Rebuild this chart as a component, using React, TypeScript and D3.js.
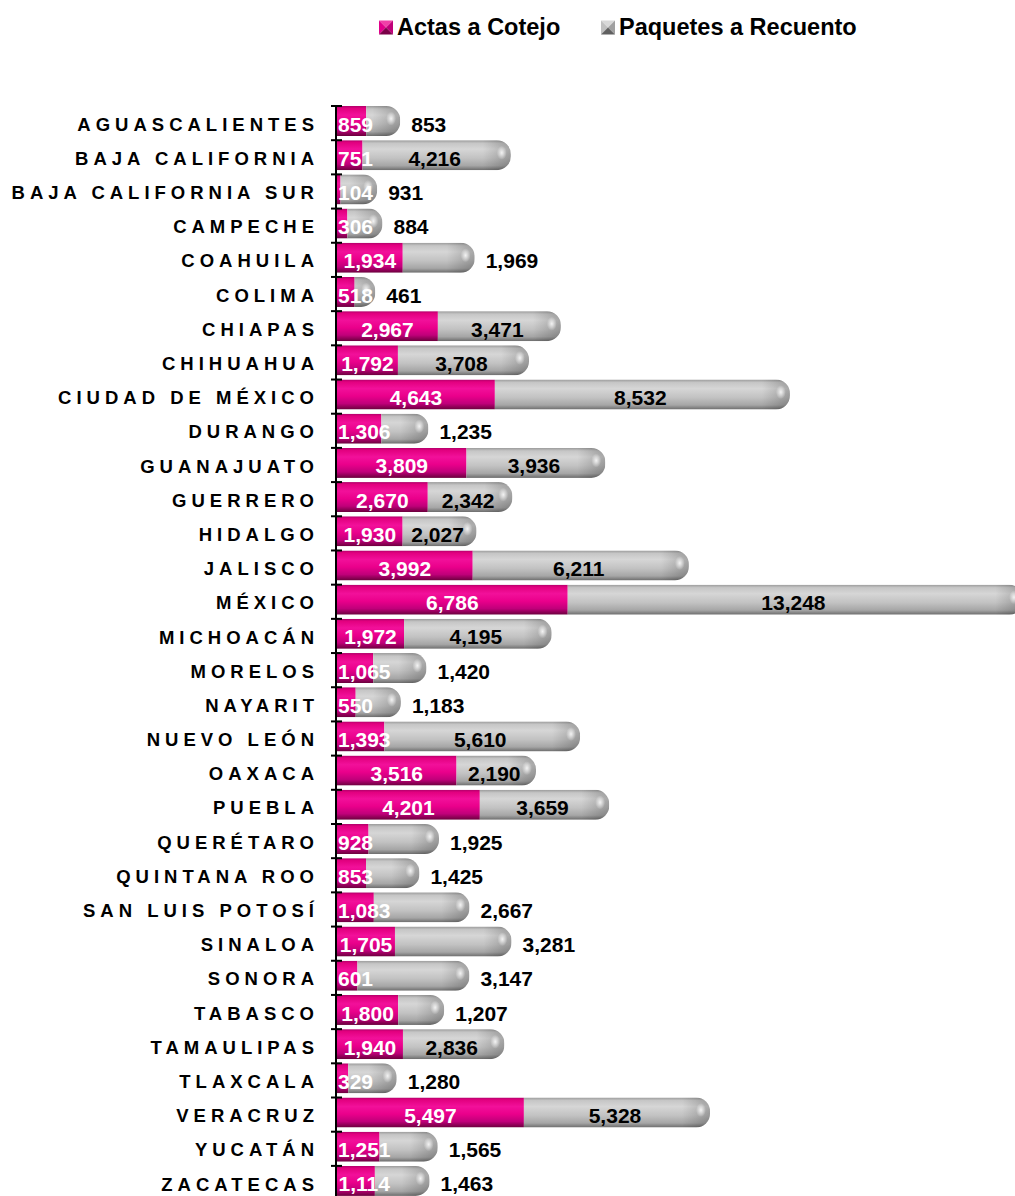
import * as React from 'react'
import * as d3 from 'd3'

const states = [
  'AGUASCALIENTES', 'BAJA CALIFORNIA', 'BAJA CALIFORNIA SUR', 'CAMPECHE', 'COAHUILA', 'COLIMA',
  'CHIAPAS', 'CHIHUAHUA', 'CIUDAD DE MÉXICO', 'DURANGO', 'GUANAJUATO', 'GUERRERO', 'HIDALGO',
  'JALISCO', 'MÉXICO', 'MICHOACÁN', 'MORELOS', 'NAYARIT', 'NUEVO LEÓN', 'OAXACA', 'PUEBLA',
  'QUERÉTARO', 'QUINTANA ROO', 'SAN LUIS POTOSÍ', 'SINALOA', 'SONORA', 'TABASCO', 'TAMAULIPAS',
  'TLAXCALA', 'VERACRUZ', 'YUCATÁN', 'ZACATECAS',
];

const actas = [
  859, 751, 104, 306, 1934, 518, 2967, 1792, 4643, 1306, 3809, 2670, 1930, 3992, 6786, 1972,
  1065, 550, 1393, 3516, 4201, 928, 853, 1083, 1705, 601, 1800, 1940, 329, 5497, 1251, 1114,
];

const paquetes = [
  853, 4216, 931, 884, 1969, 461, 3471, 3708, 8532, 1235, 3936, 2342, 2027, 6211, 13248, 4195,
  1420, 1183, 5610, 2190, 3659, 1925, 1425, 2667, 3281, 3147, 1207, 2836, 1280, 5328, 1565, 1463,
];

// states whose "Paquetes" label sits to the right of the bar
const outsideLabels = [
  'AGUASCALIENTES', 'BAJA CALIFORNIA SUR', 'CAMPECHE', 'COAHUILA', 'COLIMA', 'DURANGO', 'MORELOS',
  'NAYARIT', 'QUERÉTARO', 'QUINTANA ROO', 'SAN LUIS POTOSÍ', 'SINALOA', 'SONORA', 'TABASCO',
  'TLAXCALA', 'YUCATÁN', 'ZACATECAS',
];

const seriesNames = ['Actas a Cotejo', 'Paquetes a Recuento'];

const FONT = "'Liberation Sans', Arial, Helvetica, sans-serif";
const fmt = d3.format(',');

// rough bold Arial width for numbers
const numWidth = (s: string, fs: number) =>
  s.split('').reduce((a, c) => a + (c === ',' ? 0.278 : 0.556), 0) * fs;

const roundedRight = (x0: number, y0: number, x1: number, h: number, r: number) => {
  r = Math.min(r, x1 - x0, h / 2);
  return `M${x0},${y0}H${x1 - r}A${r},${r} 0 0 1 ${x1},${y0 + r}V${y0 + h - r}A${r},${r} 0 0 1 ${x1 - r},${y0 + h}H${x0}Z`;
};

const BarChart: React.FC = () => {
  const ref = React.useRef<SVGSVGElement>(null);
  const width = 1015;
  const height = 1196;

  React.useEffect(() => {
    const svg = d3.select(ref.current);
    svg.selectAll('*').remove();

    const x = d3.scaleLinear().domain([0, 20000]).range([337, 1017]);
    const y = d3.scaleBand<string>().domain(states).range([107, 107 + 32 * 34.19]);
    const bh = 30;
    const capExtra = 5;

    const defs = svg.append('defs');
    const vgrad = (id: string, stops: [number, string][]) => {
      const g = defs.append('linearGradient').attr('id', id)
        .attr('x1', 0).attr('y1', 0).attr('x2', 0).attr('y2', 1);
      stops.forEach(([o, c]) => g.append('stop').attr('offset', o).attr('stop-color', c));
    };
    vgrad('gMag', [[0, '#b0006a'], [0.08, '#e2007f'], [0.3, '#f2109a'], [0.55, '#ea008b'], [0.8, '#c0007a'], [1, '#6a003c']]);
    vgrad('gGray', [[0, '#9a9a9a'], [0.1, '#c6c6c6'], [0.3, '#d6d6d6'], [0.6, '#c2c2c2'], [0.85, '#a6a6a6'], [1, '#6c6c6c']]);

    const cap = defs.append('linearGradient').attr('id', 'gCap')
      .attr('x1', 0).attr('y1', 0).attr('x2', 1).attr('y2', 0);
    cap.append('stop').attr('offset', 0).attr('stop-color', '#000').attr('stop-opacity', 0);
    cap.append('stop').attr('offset', 1).attr('stop-color', '#000').attr('stop-opacity', 0.22);

    const hl = defs.append('radialGradient').attr('id', 'gHl');
    hl.append('stop').attr('offset', 0).attr('stop-color', '#fff').attr('stop-opacity', 0.85);
    hl.append('stop').attr('offset', 1).attr('stop-color', '#fff').attr('stop-opacity', 0);

    // bars
    states.forEach((s, i) => {
      const top = (y(s) as number) - 1;
      const x0 = x(0);
      const xm = x(actas[i]);
      const xe = x(actas[i] + paquetes[i]) + capExtra;
      const r = bh / 2 - 1;
      const cid = `clip-${i}`;
      defs.append('clipPath').attr('id', cid)
        .append('path').attr('d', roundedRight(x0, top, xe, bh, r));

      const g = svg.append('g').attr('clip-path', `url(#${cid})`);
      g.append('rect').attr('x', x0).attr('y', top).attr('width', xm - x0).attr('height', bh)
        .attr('fill', 'url(#gMag)');
      g.append('rect').attr('x', xm).attr('y', top).attr('width', xe - xm).attr('height', bh)
        .attr('fill', 'url(#gGray)');
      g.append('rect').attr('x', xe - 2 * r).attr('y', top).attr('width', 2 * r).attr('height', bh)
        .attr('fill', 'url(#gCap)');
      g.append('ellipse').attr('cx', xe - r * 0.65).attr('cy', top + bh * 0.42)
        .attr('rx', 5).attr('ry', 7).attr('fill', 'url(#gHl)');
    });

    // axis with ticks at band boundaries
    const axis = svg.append('g').attr('stroke', '#000');
    axis.append('line').attr('x1', 336).attr('x2', 336)
      .attr('y1', y.range()[0] - 2).attr('y2', y.range()[1]).attr('stroke-width', 2);
    d3.range(states.length + 1).forEach(k => {
      const yy = y.range()[0] + k * y.step() - 1;
      axis.append('line').attr('x1', 331).attr('x2', 342).attr('y1', yy).attr('y2', yy)
        .attr('stroke-width', 2);
    });

    // category labels
    const ls = 5;
    svg.append('g').selectAll('text').data(states).enter().append('text')
      .attr('x', 314 + ls)
      .attr('y', d => (y(d) as number) + y.bandwidth() / 2 + 6.6)
      .attr('text-anchor', 'end')
      .attr('font-family', FONT).attr('font-weight', 'bold').attr('font-size', 18.5)
      .attr('letter-spacing', ls)
      .attr('fill', '#000')
      .text(d => d);

    // value labels
    const fs = 21;
    const labels = svg.append('g').attr('font-family', FONT).attr('font-weight', 'bold')
      .attr('font-size', fs);
    states.forEach((s, i) => {
      const cy = (y(s) as number) + y.bandwidth() / 2 + 7.5;
      const a = fmt(actas[i]);
      const aw = numWidth(a, fs);
      const xm = x(actas[i]);
      const ax = Math.max((x(0) + xm) / 2, x(0) + aw / 2 + 1);
      labels.append('text').attr('x', ax).attr('y', cy).attr('text-anchor', 'middle')
        .attr('fill', '#fff').text(a);

      const p = fmt(paquetes[i]);
      const xe = x(actas[i] + paquetes[i]) + capExtra;
      if (outsideLabels.includes(s)) {
        labels.append('text').attr('x', xe + 11).attr('y', cy).attr('fill', '#000').text(p);
      } else {
        labels.append('text').attr('x', (xm + xe) / 2 - 2).attr('y', cy).attr('text-anchor', 'middle')
          .attr('fill', '#000').text(p);
      }
    });

    // legend
    const legend = svg.append('g');
    const legendX = [379, 601];
    const markerColors = [
      ['#f040a8', '#c0007a', '#e0008a', '#7a0048'],
      ['#d8d8d8', '#a0a0a0', '#c0c0c0', '#606060'],
    ];
    seriesNames.forEach((name, k) => {
      const lx = legendX[k];
      const ly = 20.5;
      const sz = 14;
      const c = markerColors[k];
      const cx = lx + sz / 2;
      const cyy = ly + sz / 2;
      const tri = (pts: number[][], col: string) =>
        legend.append('polygon').attr('points', pts.map(p => p.join(',')).join(' ')).attr('fill', col);
      tri([[lx, ly], [lx + sz, ly], [cx, cyy]], c[0]);
      tri([[lx, ly], [cx, cyy], [lx, ly + sz]], c[2]);
      tri([[lx + sz, ly], [lx + sz, ly + sz], [cx, cyy]], c[1]);
      tri([[lx, ly + sz], [cx, cyy], [lx + sz, ly + sz]], c[3]);
      legend.append('text').attr('x', lx + sz + 4).attr('y', 35)
        .attr('font-family', FONT).attr('font-weight', 'bold').attr('font-size', 23.5)
        .attr('fill', '#000').text(name);
    });
  }, []);

  return (
    <svg
      ref={ref}
      width={width}
      height={height}
      style={{ position: 'absolute', left: 0, top: 0, background: '#fff' }}
    ></svg>
  );
};

export default function App() {
  return <BarChart />;
}
